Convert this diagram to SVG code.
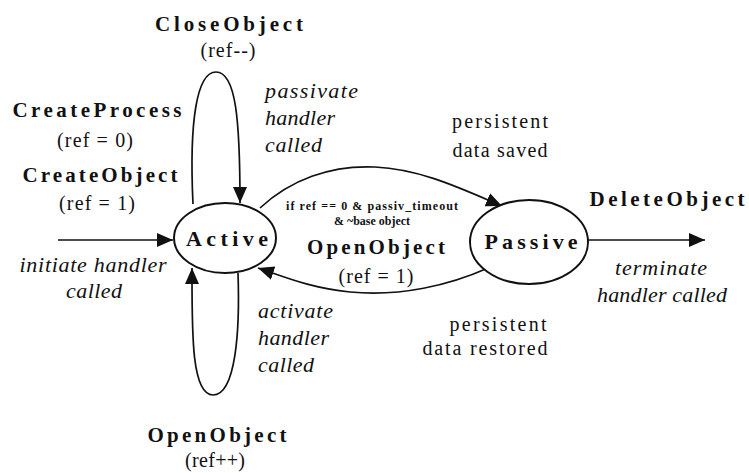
<svg xmlns="http://www.w3.org/2000/svg" width="749" height="473" viewBox="0 0 749 473">
  <defs>
    <marker id="arrow" markerUnits="userSpaceOnUse" markerWidth="18" markerHeight="16" refX="16" refY="7" orient="auto">
      <path d="M0,0 L16,7 L0,14 z" fill="#111"/>
    </marker>
    <style>
      text { font-family: 'Liberation Serif', 'DejaVu Serif', serif; fill: #111; }
      .state { fill: #fff; stroke: #111; stroke-width: 2; }
      .edge { fill: none; stroke: #111; stroke-width: 1.7; marker-end: url(#arrow); }
      .ev { font-weight: bold; font-size: 21px; text-anchor: middle; }
      .par { font-size: 20px; text-anchor: middle; }
      .act { font-style: italic; font-size: 22px; }
      .mid { text-anchor: middle; }
      .note { font-size: 20px; text-anchor: middle; }
      .cond { font-weight: bold; font-size: 12px; text-anchor: middle; }
      .name { font-weight: bold; font-size: 22px; text-anchor: middle; }
    </style>
  </defs>
  <rect width="749" height="473" fill="#fff"/>

  <!-- transitions -->
  <g id="connectors">
    <path class="edge" d="M58,240 L173,240"/>
    <path class="edge" d="M193,204 C189,120 197,72 216,72 C236,72 240,120 240,203"/>
    <path class="edge" d="M238,273 C240,330 236,395 213,395 C191,395 192,330 192,268"/>
    <path class="edge" d="M260,208 C290,180 330,165 375,167 C420,169 460,188 502,206"/>
    <path class="edge" d="M488,268 C450,285 400,297 350,292 C310,288 285,277 258,268"/>
    <path class="edge" d="M588,240 L705,240"/>
  </g>

  <!-- states -->
  <g id="active">
    <ellipse class="state" cx="225" cy="238" rx="51" ry="35"/>
    <text class="name" x="227" y="246" textLength="82" lengthAdjust="spacing">Active</text>
  </g>
  <g id="passive">
    <ellipse class="state" cx="529" cy="242" rx="59" ry="42"/>
    <text class="name" x="531" y="249" textLength="93" lengthAdjust="spacing">Passive</text>
  </g>

  <!-- event and action labels -->
  <g id="labels">
    <text class="ev" x="229" y="31" textLength="148" lengthAdjust="spacing">CloseObject</text>
    <text class="par" x="228" y="57" textLength="55" lengthAdjust="spacing">(ref--)</text>

    <text class="ev" x="97" y="117" textLength="169" lengthAdjust="spacing">CreateProcess</text>
    <text class="par" x="95" y="147" textLength="76" lengthAdjust="spacing">(ref = 0)</text>
    <text class="ev" x="100" y="182" textLength="155" lengthAdjust="spacing">CreateObject</text>
    <text class="par" x="97" y="210" textLength="76" lengthAdjust="spacing">(ref = 1)</text>

    <text class="act" x="265" y="98" textLength="93" lengthAdjust="spacing">passivate</text>
    <text class="act" x="265" y="125" textLength="70" lengthAdjust="spacing">handler</text>
    <text class="act" x="265" y="152" textLength="57" lengthAdjust="spacing">called</text>

    <text class="note" x="500" y="128" textLength="96" lengthAdjust="spacing">persistent</text>
    <text class="note" x="500" y="157" textLength="95" lengthAdjust="spacing">data saved</text>

    <text class="cond" x="372" y="210" textLength="172" lengthAdjust="spacing">if ref == 0 &amp; passiv_timeout</text>
    <text class="cond" x="372" y="225" textLength="76" lengthAdjust="spacingAndGlyphs">&amp; ~base object</text>
    <text class="ev" x="376" y="254" textLength="138" lengthAdjust="spacing">OpenObject</text>
    <text class="par" x="376" y="283" textLength="75" lengthAdjust="spacing">(ref = 1)</text>

    <text class="ev" x="667" y="206" textLength="155" lengthAdjust="spacing">DeleteObject</text>
    <text class="act mid" x="661" y="275" textLength="92" lengthAdjust="spacing">terminate</text>
    <text class="act mid" x="662" y="302" textLength="130" lengthAdjust="spacing">handler called</text>

    <text class="note" x="498" y="331" textLength="97" lengthAdjust="spacing">persistent</text>
    <text class="note" x="485" y="355" textLength="125" lengthAdjust="spacing">data restored</text>

    <text class="act mid" x="93" y="272" textLength="147" lengthAdjust="spacing">initiate handler</text>
    <text class="act mid" x="94" y="298" textLength="56" lengthAdjust="spacing">called</text>

    <text class="act" x="258" y="318" textLength="75" lengthAdjust="spacing">activate</text>
    <text class="act" x="258" y="345" textLength="71" lengthAdjust="spacing">handler</text>
    <text class="act" x="258" y="372" textLength="56" lengthAdjust="spacing">called</text>

    <text class="ev" x="217" y="442" textLength="139" lengthAdjust="spacing">OpenObject</text>
    <text class="par" x="215" y="467" textLength="60" lengthAdjust="spacing">(ref++)</text>
  </g>
</svg>
